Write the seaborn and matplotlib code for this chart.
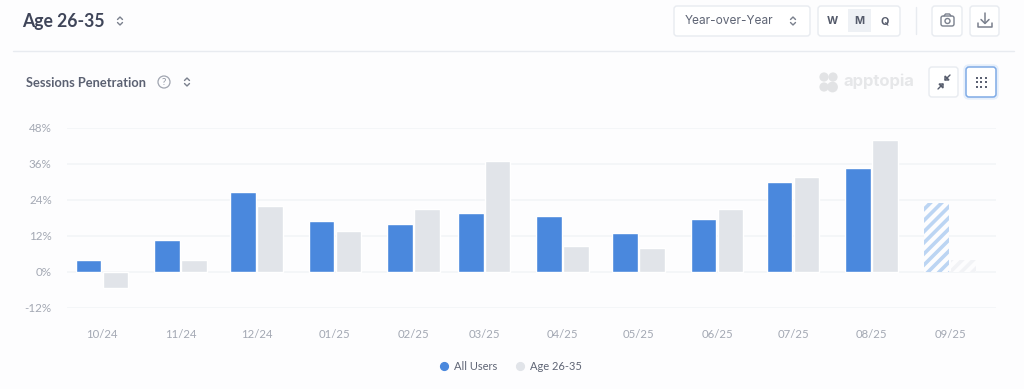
import matplotlib
matplotlib.use("Agg")
import matplotlib.pyplot as plt
import pandas as pd
import seaborn as sns
from matplotlib.lines import Line2D
from matplotlib.patches import Circle, FancyBboxPatch, Rectangle, Polygon

# Datos
meses = ["10/24", "11/24", "12/24", "01/25", "02/25", "03/25",
         "04/25", "05/25", "06/25", "07/25", "08/25", "09/25"]
all_users = [4, 10.5, 26.5, 17, 16, 19.5, 18.5, 13, 17.5, 30, 34.5, 23]
age_26_35 = [-5.5, 4, 22, 13.5, 21, 37, 8.5, 8, 21, 31.5, 44, 4]
y_ticks = [-12, 0, 12, 24, 36, 48]

AZUL = "#4a88dd"
GRIS = "#e1e4e9"
TEXTO = "#3f4559"
SUAVE = "#a3a8b3"
BORDE = "#e8ebf0"

W, H = 1024, 389

sns.set_theme(style="white")
plt.rcParams["font.family"] = ["Lato", "DejaVu Sans"]
plt.rcParams["hatch.linewidth"] = 2.6

fechas = pd.to_datetime(meses, format="%m/%y")
dias = (fechas - fechas[0]).days

df = pd.DataFrame({
    "dia": list(dias) * 2,
    "valor": all_users + age_26_35,
    "serie": ["All Users"] * 12 + ["Age 26-35"] * 12,
})

fig = plt.figure(figsize=(W / 100, H / 100), dpi=100, facecolor="#fdfdfe")

# Capa de interfaz en coordenadas de pixel
ui = fig.add_axes([0, 0, 1, 1], zorder=0)
ui.set_xlim(0, W)
ui.set_ylim(H, 0)
ui.axis("off")


def caja(x0, y0, x1, y1, borde=BORDE, fondo="white", lw=1.0, r=3):
    ui.add_patch(FancyBboxPatch((x0, y0), x1 - x0, y1 - y0,
                                boxstyle=f"round,pad=0,rounding_size={r}",
                                fc=fondo, ec=borde, lw=lw))


def chevrones(x, y, color="#7a808d"):
    ui.plot([x - 2.5, x, x + 2.5], [y - 1.5, y - 4, y - 1.5], color=color, lw=1)
    ui.plot([x - 2.5, x, x + 2.5], [y + 1.5, y + 4, y + 1.5], color=color, lw=1)


# Cabecera
ui.text(22, 21, "Age 26-35", fontsize=12.7, fontweight="bold", color=TEXTO, va="center")
chevrones(120, 21)
ui.plot([13, 1014], [51, 51], color=BORDE, lw=1)
ui.text(26, 83, "Sessions Penetration", fontsize=9.3, fontweight="bold", color="#5b6172", va="center")
ui.add_patch(Circle((164, 82), 6, fc="none", ec="#a0a5b0", lw=0.9))
ui.text(164, 82, "?", fontsize=7, color="#8d93a0", ha="center", va="center")
chevrones(187, 82)

caja(674, 6, 810, 36)
ui.text(685, 21, "Year-over-Year", fontsize=8.6, color="#5f6575", va="center", family="Inter")
chevrones(793, 21)

caja(818, 6, 900, 36)
ui.add_patch(Rectangle((848, 9), 23, 23, fc="#eef1f5", ec="none"))
for x, letra in zip([832.5, 859, 885], ["W", "M", "Q"]):
    ui.text(x, 21, letra, fontsize=7.8, fontweight="bold", color="#555b6b",
            ha="center", va="center", family="Inter")
ui.plot([916, 916], [7, 34], color=BORDE, lw=1)

# Camara
caja(932, 6, 962, 36)
ui.add_patch(FancyBboxPatch((941, 16), 13, 10, boxstyle="round,pad=0,rounding_size=2",
                            fc="none", ec="#7a808d", lw=1))
ui.plot([944, 945.5, 949.5, 951], [16, 14, 14, 16], color="#7a808d", lw=1)
ui.add_patch(Circle((947.5, 21), 2.5, fc="none", ec="#7a808d", lw=1))

# Descarga
caja(970, 6, 999, 36)
ui.plot([985, 985], [13, 23], color="#7a808d", lw=1.1)
ui.plot([981, 985, 989], [19.5, 23.5, 19.5], color="#7a808d", lw=1.1)
ui.plot([978, 978, 992, 992], [23, 27, 27, 23], color="#7a808d", lw=1.1)

# Logo
for cx, cy, r in [(824, 77, 4.6), (833, 77, 4.6), (824, 87, 4.6), (832.5, 87, 5.4)]:
    ui.add_patch(Circle((cx, cy), r, fc="#e2e3e5", ec="none"))
ui.text(843, 81.5, "apptopia", fontsize=12, fontweight="bold", color="#e6e7e9",
        va="center", family="Inter")

# Botones de la barra del grafico
caja(929, 67, 958, 97)
ui.plot([945, 950], [80, 75], color="#555b6b", lw=1)
ui.add_patch(Polygon([[945, 76], [945, 80], [949, 80]], fc="none", ec="#555b6b", lw=1))
ui.plot([943, 938], [84, 89], color="#555b6b", lw=1)
ui.add_patch(Polygon([[939, 84], [943, 84], [943, 88]], fc="none", ec="#555b6b", lw=1))

caja(964, 65, 998, 99, borde="#e6effb", fondo="#e6effb", r=5)
caja(966, 67, 996, 97, borde="#7fabe6", lw=1.1)
for fila in [77.5, 82, 86.5]:
    ui.scatter([976.5, 981, 985.5], [fila] * 3, s=3.5, color="#5b6172", marker="s", linewidths=0)

# Grafico de barras
izq, der, arr, aba = 67, 996, 127.7, 307.7
ax = fig.add_axes([izq / W, 1 - aba / H, (der - izq) / W, (aba - arr) / H],
                  zorder=1, facecolor="none")
sns.barplot(data=df, x="dia", y="valor", hue="serie", native_scale=True,
            hue_order=["All Users", "Age 26-35"], palette=[AZUL, GRIS],
            saturation=1, width=0.76, gap=0.05, legend=False, ax=ax, zorder=3)

px_dia = (950 - 102) / dias[-1]
ax.set_xlim(-(102 - izq) / px_dia, (der - 102) / px_dia)
ax.set_ylim(y_ticks[0], y_ticks[-1])
ax.set_xticks(list(dias))
ax.set_xticklabels(meses)
ax.set_yticks(y_ticks)
ax.set_yticklabels([f"{v}%" for v in y_ticks])
ax.set_xlabel("")
ax.set_ylabel("")
ax.tick_params(axis="x", length=0, pad=15.6, labelsize=8.2, labelcolor=SUAVE)
ax.tick_params(axis="y", length=0, pad=11, labelsize=8.4, labelcolor=SUAVE)
ax.grid(axis="y", color="#f2f4f7", lw=1.1, zorder=0)
ax.set_axisbelow(True)
sns.despine(ax=ax, left=True, bottom=True)

# Ultimo mes incompleto: barras rayadas
for cont, color in zip(ax.containers, ["#bcd5f3", "#f2f3f6"]):
    barra = cont[-1]
    barra.set_facecolor("#fdfdfe")
    barra.set_edgecolor(color)
    barra.set_hatch("///")
    barra.set_linewidth(0)

handles = [Line2D([], [], marker="o", ls="", ms=5.6, color=c, label=n)
           for c, n in zip([AZUL, GRIS], ["All Users", "Age 26-35"])]
fig.legend(handles=handles, loc="center", bbox_to_anchor=(507.5 / W, 1 - 366 / H),
           ncol=2, frameon=False, fontsize=8, labelcolor="#5f6575",
           handletextpad=-0.1, columnspacing=1.0)

fig.savefig("out.png", dpi=100, facecolor=fig.get_facecolor())
